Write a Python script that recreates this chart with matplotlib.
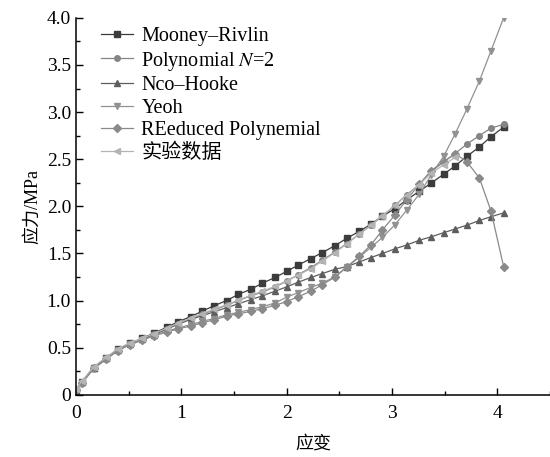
import matplotlib.pyplot as plt
from matplotlib.ticker import MultipleLocator, FuncFormatter

plt.rcParams['font.family'] = ['Liberation Serif', 'Noto Sans CJK SC']
plt.rcParams['mathtext.fontset'] = 'stix'

# strain values shared by the model curves
strain = [0.0, 0.06, 0.17, 0.29, 0.40, 0.51, 0.63, 0.74, 0.86, 0.97, 1.09, 1.20,
          1.31, 1.43, 1.54, 1.66, 1.77, 1.89, 2.00, 2.11, 2.23, 2.34, 2.46, 2.57,
          2.69, 2.80, 2.91, 3.03, 3.14, 3.26, 3.37, 3.49, 3.60, 3.71, 3.83, 3.94, 4.06]

mooney = [0.05, 0.14, 0.29, 0.39, 0.485, 0.545, 0.60, 0.655, 0.715, 0.775, 0.83, 0.888,
          0.945, 1.0, 1.065, 1.12, 1.185, 1.245, 1.31, 1.376, 1.446, 1.51, 1.584, 1.66,
          1.735, 1.81, 1.896, 1.976, 2.07, 2.16, 2.245, 2.34, 2.43, 2.53, 2.63, 2.74, 2.84]

polynomial = [0.05, 0.14, 0.29, 0.39, 0.48, 0.54, 0.595, 0.645, 0.70, 0.755, 0.81, 0.855,
              0.90, 0.95, 1.0, 1.05, 1.09, 1.145, 1.205, 1.276, 1.35, 1.43, 1.517, 1.605,
              1.705, 1.80, 1.90, 2.01, 2.125, 2.23, 2.37, 2.47, 2.56, 2.66, 2.75, 2.83, 2.87]

neo_hooke = [0.05, 0.14, 0.29, 0.39, 0.48, 0.54, 0.59, 0.64, 0.695, 0.75, 0.80, 0.84,
             0.88, 0.925, 0.965, 1.01, 1.05, 1.10, 1.145, 1.195, 1.245, 1.287, 1.333, 1.36,
             1.41, 1.457, 1.50, 1.55, 1.59, 1.64, 1.676, 1.72, 1.76, 1.80, 1.85, 1.89, 1.93]

yeoh = [0.05, 0.13, 0.28, 0.38, 0.475, 0.535, 0.585, 0.63, 0.675, 0.71, 0.745, 0.78,
        0.81, 0.85, 0.875, 0.905, 0.935, 0.975, 1.036, 1.085, 1.14, 1.185, 1.255, 1.355,
        1.46, 1.565, 1.67, 1.807, 1.96, 2.13, 2.33, 2.53, 2.77, 3.03, 3.33, 3.65, 4.0]

reduced = [0.05, 0.13, 0.28, 0.38, 0.47, 0.53, 0.58, 0.625, 0.665, 0.70, 0.73, 0.765,
           0.795, 0.835, 0.86, 0.885, 0.915, 0.95, 0.99, 1.04, 1.10, 1.17, 1.25, 1.355,
           1.47, 1.59, 1.75, 1.91, 2.07, 2.235, 2.376, 2.475, 2.557, 2.475, 2.30, 1.95, 1.36]

# experimental data
exp_strain = [0.0, 0.06, 0.17, 0.29, 0.40, 0.51, 0.63, 0.74, 0.86, 0.97, 1.09, 1.20,
              1.31, 1.43, 1.54, 1.66, 1.77, 1.89, 2.00, 2.11, 2.23, 2.34, 2.46, 2.57,
              2.69, 2.80, 2.91, 3.03, 3.14, 3.26, 3.37, 3.49, 3.60]
exp_stress = [0.06, 0.15, 0.30, 0.40, 0.49, 0.55, 0.60, 0.65, 0.705, 0.76, 0.815, 0.86,
              0.91, 0.955, 1.005, 1.055, 1.10, 1.15, 1.21, 1.27, 1.34, 1.42, 1.51, 1.60,
              1.71, 1.80, 1.90, 2.01, 2.12, 2.23, 2.35, 2.44, 2.52]

fig, ax = plt.subplots(figsize=(5.5, 4.57), dpi=100)
fig.subplots_adjust(left=0.138, right=1.0, bottom=0.136, top=0.961)

lw = 0.9
ax.plot(strain, mooney, color='#3c3c3c', marker='s', ms=3.8, lw=lw, label='Mooney–Rivlin')
ax.plot(strain, polynomial, color='#858585', marker='o', ms=4.0, lw=lw, label='Polynomial $N$=2')
ax.plot(strain, neo_hooke, color='#5e5e5e', marker='^', ms=4.3, lw=lw, label='Nco–Hooke')
ax.plot(strain, yeoh, color='#929292', marker='v', ms=4.3, lw=lw, label='Yeoh')
ax.plot(strain, reduced, color='#8a8a8a', marker='D', ms=3.6, lw=lw, label='REeduced Polynemial')
ax.plot(exp_strain, exp_stress, color='#b4b4b4', marker='<', ms=4.3, lw=lw, label='实验数据')

ax.set_xlim(0, 4.5)
ax.set_ylim(0, 4.0)
ax.xaxis.set_major_locator(MultipleLocator(1))
ax.xaxis.set_minor_locator(MultipleLocator(0.5))
ax.yaxis.set_major_locator(MultipleLocator(0.5))
ax.yaxis.set_minor_locator(MultipleLocator(0.25))
ax.yaxis.set_major_formatter(FuncFormatter(lambda v, p: '0' if v == 0 else f'{v:.1f}'))
ax.tick_params(which='both', direction='in', labelsize=14, width=1)
ax.tick_params(which='major', length=5)
ax.tick_params(which='minor', length=3)
ax.tick_params(axis='x', pad=7)

for s in ['top', 'right']:
    ax.spines[s].set_visible(False)
for s in ['left', 'bottom']:
    ax.spines[s].set_linewidth(1.1)

ax.set_xlabel('应变', fontsize=13, labelpad=10)
ax.set_ylabel('应力/MPa', fontsize=13, labelpad=4)

ax.legend(loc='upper left', bbox_to_anchor=(0.03, 1.005), frameon=False, fontsize=14.5,
          handlelength=1.6, handletextpad=0.4, labelspacing=0.17, borderaxespad=0.15)

plt.savefig('out.png')
